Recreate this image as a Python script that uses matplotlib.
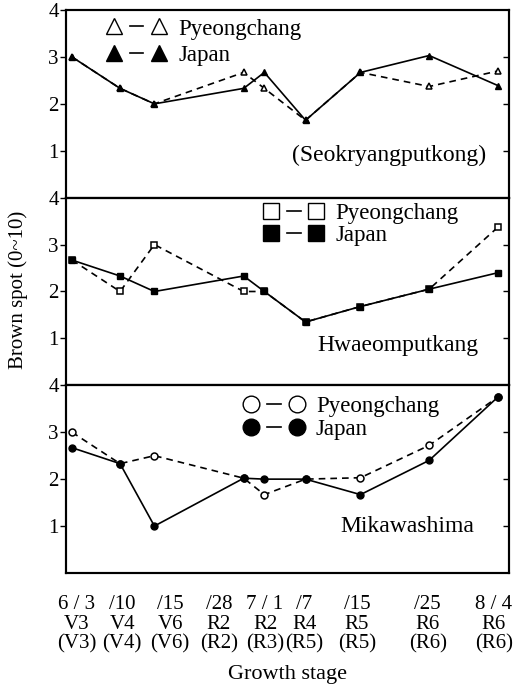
"""Brown spot ratings over growth stages for three cultivars"""

import matplotlib
matplotlib.use('Agg')
import matplotlib.pyplot as plt
from matplotlib.lines import Line2D
from matplotlib.legend_handler import HandlerTuple

# days after 6/3 for each rating date
days = [0, 7, 12, 25, 28, 34, 42, 52, 62]
date_labels = ['6 / 3', '/10', '/15', '/28', '7 / 1', '/7', '/15', '/25', '8 / 4']
stage_labels = ['V3', 'V4', 'V6', 'R2', 'R2', 'R4', 'R5', 'R6', 'R6']
stage_labels2 = ['(V3)', '(V4)', '(V6)', '(R2)', '(R3)', '(R5)', '(R5)', '(R6)', '(R6)']
label_days = [0.7, 7.3, 14.3, 21.4, 28.1, 33.8, 41.5, 51.8, 61.4]

seok_pc = [3.0, 2.33, 2.0, 2.67, 2.33, 1.65, 2.67, 2.37, 2.7]
seok_jp = [3.0, 2.33, 2.0, 2.33, 2.67, 1.65, 2.67, 3.03, 2.39]
hwa_pc = [2.67, 2.0, 3.0, 2.0, 2.0, 1.35, 1.68, 2.05, 3.37]
hwa_jp = [2.67, 2.33, 2.0, 2.33, 2.0, 1.35, 1.68, 2.05, 2.4]
mika_pc = [3.0, 2.33, 2.5, 2.02, 1.67, 2.0, 2.03, 2.72, 3.75]
mika_jp = [2.67, 2.33, 1.0, 2.02, 2.0, 2.0, 1.67, 2.4, 3.75]

panels = [
    ('(Seokryangputkong)', seok_pc, seok_jp, '^', 11, (0.093, 0.955), 0.25, (0.73, 0.225)),
    ('Hwaeomputkang', hwa_pc, hwa_jp, 's', 11, (0.449, 0.972), 0.05, (0.75, 0.21)),
    ('Mikawashima', mika_pc, mika_jp, 'o', 12, (0.404, 0.945), 0.08, (0.77, 0.25)),
]

plt.rcParams['font.family'] = ['Liberation Serif', 'DejaVu Serif', 'DejaVu Sans']

fig, axes = plt.subplots(3, 1, figsize=(5.14, 6.87), dpi=100, sharex=True)
fig.subplots_adjust(left=0.128, right=0.990, top=0.9854, bottom=0.166, hspace=0)

for ax, (name, pc, jp, mk, legsize, anchor, lspace, lab) in zip(axes, panels):
    ax.plot(days, pc, linestyle=(0, (4, 3)), color='black', linewidth=1.2,
            marker=mk, markersize=5, markerfacecolor='white', markeredgecolor='black',
            markeredgewidth=1.1)
    ax.plot(days, jp, linestyle='-', color='black', linewidth=1.2,
            marker=mk, markersize=5, markerfacecolor='black', markeredgecolor='black')

    ax.set_ylim(0, 4)
    ax.set_xlim(-0.9, 63.6)
    ax.set_yticks([1, 2, 3, 4])
    ax.tick_params(axis='y', direction='out', length=4, width=1, labelsize=15, pad=1)
    ax.tick_params(axis='x', length=0)

    ax2 = ax.twinx()
    ax2.set_ylim(0, 4)
    ax2.set_yticks([1, 2, 3])
    ax2.tick_params(axis='y', direction='in', length=4, width=1, labelright=False)

    for a in (ax, ax2):
        for sp in a.spines.values():
            sp.set_linewidth(1.5)

    # legend: marker - marker, as in the original
    dash = Line2D([], [], color='black', linewidth=1.2)
    handles = []
    for face in ('white', 'black'):
        m = Line2D([], [], marker=mk, linestyle='none', markersize=legsize,
                   markerfacecolor=face, markeredgecolor='black', markeredgewidth=1)
        handles.append((m, dash, m))
    ax.legend(handles, ['Pyeongchang', 'Japan'], loc='upper left',
              bbox_to_anchor=anchor, frameon=False, fontsize=16.5,
              handler_map={tuple: HandlerTuple(ndivide=None, pad=0.4)},
              handlelength=2.55, handletextpad=0.55, borderpad=0, borderaxespad=0,
              labelspacing=lspace, numpoints=1)

    ax.text(lab[0], lab[1], name, transform=ax.transAxes, fontsize=17,
            va='center', ha='center')

bottom = axes[-1]
bottom.set_xticks(label_days)
bottom.set_xticklabels([d + '\n' + s + '\n' + s2 for d, s, s2 in
                        zip(date_labels, stage_labels, stage_labels2)],
                       fontsize=15, linespacing=1.05)
bottom.tick_params(axis='x', pad=16)

fig.text(0.035, 0.578, 'Brown spot (0~10)', rotation=90, fontsize=15,
         ha='center', va='center')
fig.text(0.559, 0.018, 'Growth stage', fontsize=16, ha='center', va='center')

plt.savefig('out.png', dpi=100)
